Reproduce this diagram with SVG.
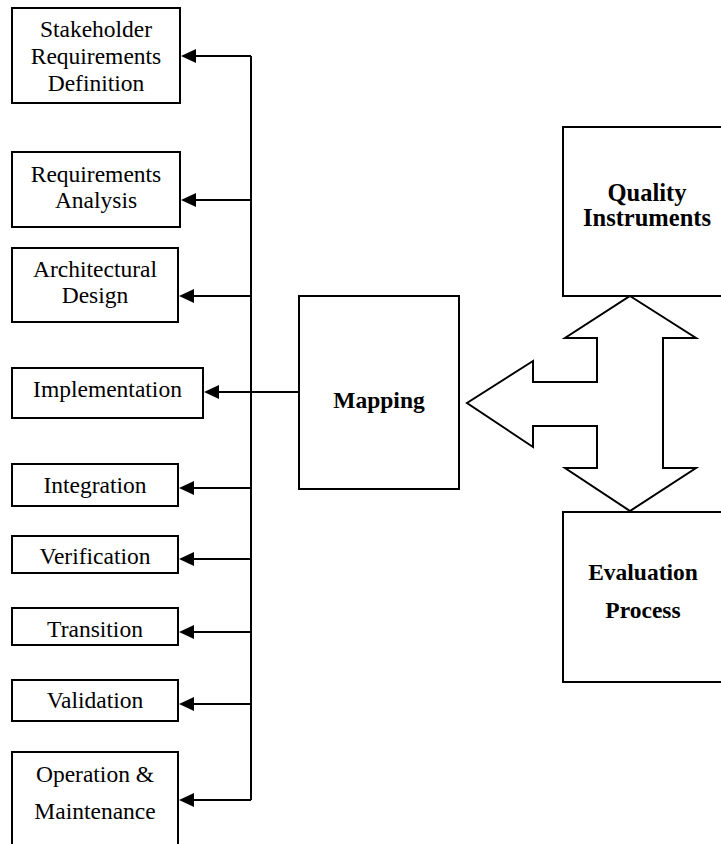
<svg xmlns="http://www.w3.org/2000/svg" width="721" height="844" viewBox="0 0 721 844">
  <style>
    .box { fill: #fff; stroke: #000; stroke-width: 2; }
    .lbl { font-family: "Liberation Serif", "Times New Roman", serif; font-size: 23.5px; fill: #000; text-anchor: middle; }
    .bold { font-weight: bold; }
    .wire { fill: none; stroke: #000; stroke-width: 2; }
    .wire-arrow { fill: none; stroke: #000; stroke-width: 2; marker-end: url(#head); }
    .block-arrow { fill: #fff; stroke: #000; stroke-width: 2; stroke-linejoin: miter; }
  </style>
  <defs>
    <marker id="head" viewBox="0 0 15 14" markerWidth="15" markerHeight="14" refX="12" refY="7" orient="auto" markerUnits="userSpaceOnUse">
      <path d="M0,0 L15,7 L0,14 z" fill="#000"/>
    </marker>
  </defs>

  <rect width="721" height="844" fill="#fff"/>

  <!-- life-cycle process boxes -->
  <g id="stakeholder-requirements">
    <rect class="box" x="12" y="8" width="168" height="95"/>
    <text class="lbl" x="96" y="37">Stakeholder</text>
    <text class="lbl" x="96" y="64">Requirements</text>
    <text class="lbl" x="96" y="91">Definition</text>
  </g>
  <g id="requirements-analysis">
    <rect class="box" x="12" y="152" width="168" height="75"/>
    <text class="lbl" x="96" y="182">Requirements</text>
    <text class="lbl" x="96" y="208">Analysis</text>
  </g>
  <g id="architectural-design">
    <rect class="box" x="12" y="248" width="166" height="74"/>
    <text class="lbl" x="95" y="277">Architectural</text>
    <text class="lbl" x="95" y="303">Design</text>
  </g>
  <g id="implementation">
    <rect class="box" x="12" y="368" width="191" height="50"/>
    <text class="lbl" x="107.5" y="397">Implementation</text>
  </g>
  <g id="integration">
    <rect class="box" x="12" y="464" width="166" height="42"/>
    <text class="lbl" x="95" y="493">Integration</text>
  </g>
  <g id="verification">
    <rect class="box" x="12" y="536" width="166" height="37"/>
    <text class="lbl" x="95" y="564">Verification</text>
  </g>
  <g id="transition">
    <rect class="box" x="12" y="608" width="166" height="37"/>
    <text class="lbl" x="95" y="637">Transition</text>
  </g>
  <g id="validation">
    <rect class="box" x="12" y="680" width="166" height="41"/>
    <text class="lbl" x="95" y="708">Validation</text>
  </g>
  <g id="operation-maintenance">
    <rect class="box" x="12" y="752" width="166" height="110"/>
    <text class="lbl" x="95" y="782">Operation &amp;</text>
    <text class="lbl" x="95" y="819">Maintenance</text>
  </g>

  <!-- mapping and quality boxes -->
  <g id="mapping">
    <rect class="box" x="299" y="296" width="160" height="193"/>
    <text class="lbl bold" x="379" y="408">Mapping</text>
  </g>
  <g id="quality-instruments">
    <rect class="box" x="563" y="127" width="200" height="169"/>
    <text class="lbl bold" x="647" y="201" style="font-size:24.5px">Quality</text>
    <text class="lbl bold" x="647" y="226" style="font-size:24.5px">Instruments</text>
  </g>
  <g id="evaluation-process">
    <rect class="box" x="563" y="512" width="200" height="170"/>
    <text class="lbl bold" x="643" y="580">Evaluation</text>
    <text class="lbl bold" x="643" y="618">Process</text>
  </g>

  <!-- connectors -->
  <g id="connectors">
    <path class="wire" d="M251,56 L251,800"/>
    <path class="wire-arrow" d="M251,56 L184,56"/>
    <path class="wire-arrow" d="M251,200 L184,200"/>
    <path class="wire-arrow" d="M251,296 L182,296"/>
    <path class="wire-arrow" d="M299,392 L207,392"/>
    <path class="wire-arrow" d="M251,488 L182,488"/>
    <path class="wire-arrow" d="M251,559 L182,559"/>
    <path class="wire-arrow" d="M251,632 L182,632"/>
    <path class="wire-arrow" d="M251,704 L182,704"/>
    <path class="wire-arrow" d="M251,800 L182,800"/>
    <!-- three-way block arrow between quality instruments, evaluation process and mapping -->
    <polygon class="block-arrow" points="630,296 696,338 663,338 663,468 696,468 630,511 565,468 597,468 597,426 533,426 533,447 467,403 533,361 533,382 597,382 597,338 565,338"/>
  </g>
</svg>
